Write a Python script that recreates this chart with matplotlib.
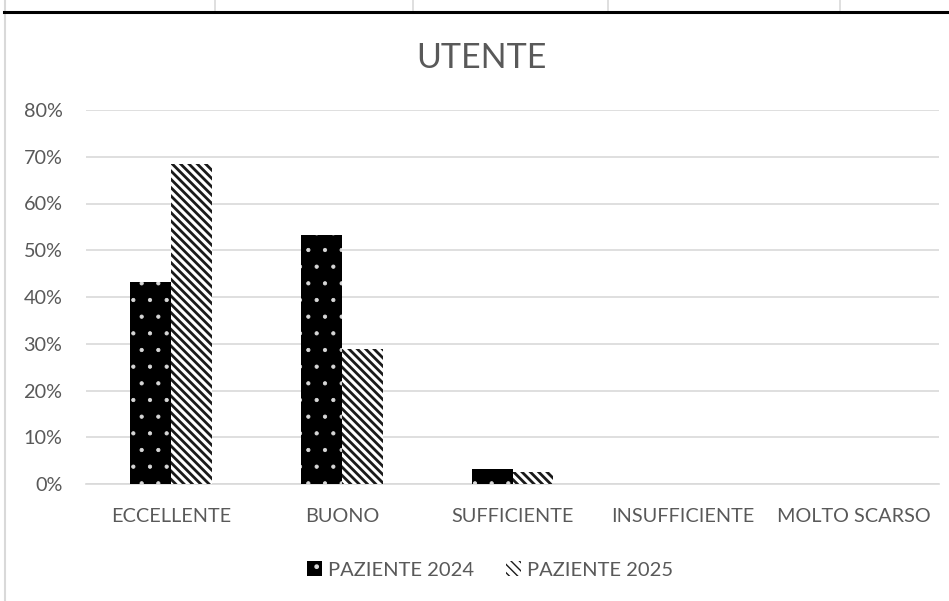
import matplotlib
matplotlib.use("Agg")
import matplotlib.pyplot as plt
import numpy as np
from matplotlib.lines import Line2D
from matplotlib.patches import Patch

categories = ["ECCELLENTE", "BUONO", "SUFFICIENTE", "INSUFFICIENTE", "MOLTO SCARSO"]
series_names = ["PAZIENTE 2024", "PAZIENTE 2025"]
values_2024 = [0.433, 0.533, 0.033, 0.0, 0.0]
values_2025 = [0.684, 0.289, 0.026, 0.0, 0.0]
yticks = [0, 0.1, 0.2, 0.3, 0.4, 0.5, 0.6, 0.7, 0.8]
ytick_labels = ["0%", "10%", "20%", "30%", "40%", "50%", "60%", "70%", "80%"]

plt.rcParams['font.family'] = ['Lato', 'DejaVu Sans']
txt = "#595959"

W, H = 949, 601
fig = plt.figure(figsize=(W/100, H/100), dpi=100)

# spreadsheet background lines
fig.add_artist(Line2D([4.5/W, 4.5/W], [0, 1], color="#d9d9d9", lw=1.5, transform=fig.transFigure))
for x in [215, 413, 608, 840]:
    fig.add_artist(Line2D([x/W, x/W], [1 - 10/H, 1], color="#d9d9d9", lw=1.2, transform=fig.transFigure))
fig.add_artist(Line2D([4/W, 1], [1 - 12/H, 1 - 12/H], color="black", lw=2.2, transform=fig.transFigure))

left, right, bottom, top = 86, 939, 484, 110
ax = fig.add_axes([left/W, 1 - bottom/H, (right-left)/W, (bottom-top)/H])

x = np.arange(len(categories))
bw = 0.24
dot_hatch = "."
line_hatch = "\\\\\\\\"
with plt.rc_context({'hatch.linewidth': 0.6}):
    ax.bar(x - bw/2, values_2024, bw, facecolor="black", edgecolor="#d8d8d8", linewidth=0,
           hatch=dot_hatch, zorder=3)
    h1 = Patch(facecolor="black", edgecolor="#d8d8d8", linewidth=0, hatch=dot_hatch)
with plt.rc_context({'hatch.linewidth': 2.0}):
    ax.bar(x + bw/2, values_2025, bw, facecolor="white", edgecolor="#1a1a1a", linewidth=0,
           hatch=line_hatch, zorder=3)
    h2 = Patch(facecolor="white", edgecolor="#1a1a1a", linewidth=0, hatch=line_hatch)

ax.set_xlim(-0.5, len(categories) - 0.5)
ax.set_ylim(0, 0.8)
ax.set_yticks(yticks)
ax.set_yticklabels(ytick_labels)
ax.set_xticks(x)
ax.set_xticklabels(categories)
ax.tick_params(axis='both', length=0, labelsize=14.3, colors=txt)
ax.tick_params(axis='y', pad=17)
ax.tick_params(axis='x', pad=17)
ax.grid(axis='y', color="#d9d9d9", lw=1.2, zorder=0)
for s in ["top", "right", "left"]:
    ax.spines[s].set_visible(False)
ax.spines["bottom"].set_color("#d9d9d9")
ax.spines["bottom"].set_linewidth(1.2)

fig.text(481/W, 1 - 58/H, "UTENTE", ha="center", va="center", fontsize=24.5, color=txt)

leg = fig.legend([h1, h2], series_names, loc="center", bbox_to_anchor=(490/W, 1 - 570/H),
                 ncol=2, frameon=False, fontsize=14.5, handlelength=0.75, handleheight=0.75,
                 handletextpad=0.3, columnspacing=1.6)
for t in leg.get_texts():
    t.set_color(txt)

fig.savefig("out.png", dpi=100)
